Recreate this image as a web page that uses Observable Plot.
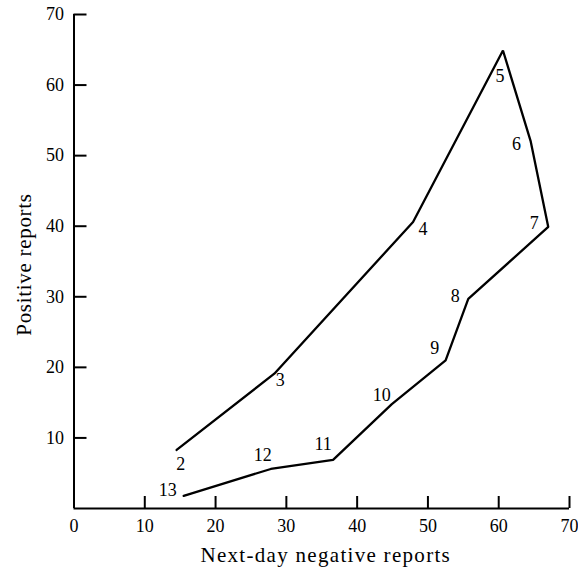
<!DOCTYPE html>
<html>
<head>
<meta charset="utf-8">
<script src="https://cdn.jsdelivr.net/npm/d3@7"></script>
<script src="https://cdn.jsdelivr.net/npm/@observablehq/plot@0.6"></script>
<style>
  html, body { margin: 0; padding: 0; background: #fff; }
  #chart svg { display: block; }
  #chart svg .xtitle text { letter-spacing: 1.3px; }
  #chart svg .ytitle text { letter-spacing: 0.7px; }
</style>
</head>
<body>
<div id="chart"></div>
<script>
// Data
const weeks = [2, 3, 4, 5, 6, 7, 8, 9, 10, 11, 12, 13];
const negativeReports = [14.5, 28.3, 47.9, 60.6, 64.5, 67.0, 55.7, 52.5, 44.9, 36.6, 27.8, 15.5];
const positiveReports = [8.3, 19.1, 40.6, 64.9, 52.1, 39.9, 29.7, 21.0, 14.8, 6.9, 5.6, 1.8];
const xTicks = [0, 10, 20, 30, 40, 50, 60, 70];
const yTicks = [10, 20, 30, 40, 50, 60, 70];
const xTitle = "Next-day negative reports";
const yTitle = "Positive reports";

const points = weeks.map((w, i) => ({week: w, neg: negativeReports[i], pos: positiveReports[i]}));

// label placement (style, pixels)
const labelOffset = {
  2: [4, 14], 3: [6, 7], 4: [10, 7], 5: [-3, 26], 6: [-14, 3], 7: [-14, -4],
  8: [-13, -3], 9: [-11, -12], 10: [-10, -9], 11: [-10, -16], 12: [-8, -14], 13: [-16, -6]
};

const font = "'Liberation Serif', 'Times New Roman', serif";
const W = 578, H = 571;
const mL = 73.5, mR = 9, mT = 14, mB = 63;
const tickLen = 12;
const frameW = W - mL - mR, frameH = H - mT - mB;

const labelMarks = points.map(p => Plot.text([p], {
  x: "neg", y: "pos", text: d => String(d.week),
  dx: labelOffset[p.week][0], dy: labelOffset[p.week][1],
  fontSize: 18, fill: "#000"
}));

const chart = Plot.plot({
  width: W,
  height: H,
  marginLeft: mL,
  marginRight: mR,
  marginTop: mT,
  marginBottom: mB,
  style: {fontFamily: font, background: "#fff", color: "#000"},
  x: {domain: [0, 70]},
  y: {domain: [0, 70]},
  marks: [
    Plot.axisX(xTicks, {tickSize: 0, tickPadding: 11, fontSize: 18, label: null}),
    Plot.axisY(yTicks, {tickSize: 0, tickPadding: 10, fontSize: 18, label: null}),
    Plot.tickX(xTicks.filter(t => t > 0), {x: d => d, insetTop: frameH - tickLen, strokeWidth: 2, stroke: "#000"}),
    Plot.tickY(yTicks, {y: d => d, insetRight: frameW - tickLen - 1, strokeWidth: 2, stroke: "#000"}),
    Plot.ruleY([0], {strokeWidth: 2}),
    Plot.ruleX([0], {strokeWidth: 2}),
    Plot.line(points, {x: "neg", y: "pos", stroke: "#000", strokeWidth: 2.3, strokeLinejoin: "miter"}),
    ...labelMarks,
    Plot.text([xTitle], {frameAnchor: "bottom", textAnchor: "middle", dx: 4, dy: 53, fontSize: 21, fill: "#000", className: "xtitle"}),
    Plot.text([yTitle], {frameAnchor: "left", textAnchor: "middle", dx: -50, dy: 3, rotate: -90, fontSize: 21, fill: "#000", className: "ytitle"})
  ]
});

document.getElementById("chart").appendChild(chart);
</script>
</body>
</html>
